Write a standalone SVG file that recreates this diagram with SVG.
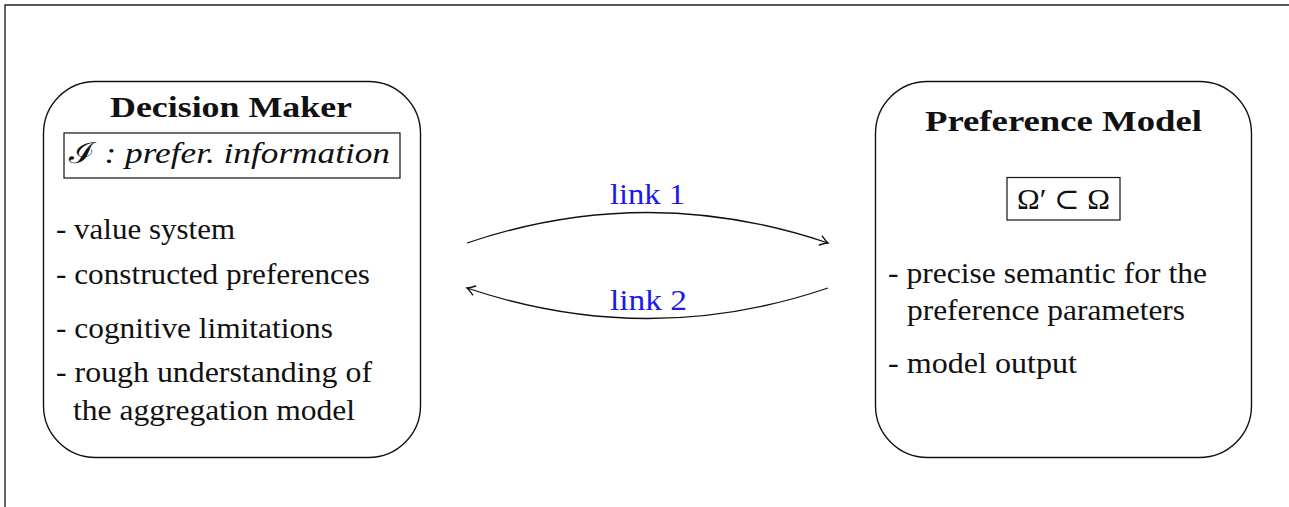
<svg xmlns="http://www.w3.org/2000/svg" width="1289" height="507" viewBox="0 0 1289 507">
<style>
.frame{fill:none;stroke:#222;stroke-width:1.4}
.node{fill:#fff;stroke:#111;stroke-width:1.4}
.inner{fill:none;stroke:#111;stroke-width:1.2}
.title{font-family:"Liberation Serif","DejaVu Serif",serif;font-weight:bold;font-size:29px;fill:#111}
.body{font-family:"Liberation Serif","DejaVu Serif",serif;font-size:29px;fill:#111}
.ital{font-family:"Liberation Serif","DejaVu Serif",serif;font-style:italic;font-size:29px;fill:#111}
.lbl{font-family:"Liberation Serif","DejaVu Serif",serif;font-size:29px;fill:#1a1aee}
.edge{fill:none;stroke:#111;stroke-width:1.3}
</style>
<defs>
<marker id="arr" markerUnits="userSpaceOnUse" markerWidth="14" markerHeight="14" viewBox="-8 -6 10 12" refX="0" refY="0" orient="auto">
<path d="M-6.5,-4 Q-2.5,-1 0,0 Q-2.5,1 -6.5,4" fill="none" stroke="#111" stroke-width="1.2" stroke-linecap="round"/>
</marker>
</defs>
<rect width="1289" height="507" fill="#fff"/>
<path class="frame" d="M5,507 V5 H1289"/>
<g id="decision-maker">
<rect class="node" x="43.5" y="81.5" width="377" height="376" rx="52" ry="52"/>
<text class="title" x="110" y="117" textLength="242" lengthAdjust="spacingAndGlyphs">Decision Maker</text>
<rect class="inner" x="64" y="133" width="336" height="45"/>
<text class="ital" x="69" y="163" textLength="321" lengthAdjust="spacingAndGlyphs"><tspan font-family="DejaVu Serif" font-style="normal">ℐ</tspan> : prefer. information</text>
<text class="body" x="56" y="239" textLength="179" lengthAdjust="spacingAndGlyphs">- value system</text>
<text class="body" x="56" y="284" textLength="314" lengthAdjust="spacingAndGlyphs">- constructed preferences</text>
<text class="body" x="56" y="338" textLength="277" lengthAdjust="spacingAndGlyphs">- cognitive limitations</text>
<text class="body" x="56" y="382" textLength="316" lengthAdjust="spacingAndGlyphs">- rough understanding of</text>
<text class="body" x="73" y="420" textLength="282" lengthAdjust="spacingAndGlyphs">the aggregation model</text>
</g>
<g id="preference-model">
<rect class="node" x="875.5" y="81.5" width="376" height="376" rx="52" ry="52"/>
<text class="title" x="925" y="131" textLength="277" lengthAdjust="spacingAndGlyphs">Preference Model</text>
<rect class="inner" x="1007" y="177.5" width="113" height="42.5"/>
<text class="body" x="1017" y="209" textLength="93" lengthAdjust="spacingAndGlyphs">Ω′ ⊂ Ω</text>
<text class="body" x="888" y="283" textLength="319" lengthAdjust="spacingAndGlyphs">- precise semantic for the</text>
<text class="body" x="907" y="320" textLength="278" lengthAdjust="spacingAndGlyphs">preference parameters</text>
<text class="body" x="888" y="373" textLength="189" lengthAdjust="spacingAndGlyphs">- model output</text>
</g>
<g id="connectors">
<path class="edge" d="M467,243 Q647.5,182 828,243" marker-end="url(#arr)"/>
<path class="edge" d="M828,288 Q647.5,349 467,288" marker-end="url(#arr)"/>
<text class="lbl" x="610" y="204" textLength="75" lengthAdjust="spacingAndGlyphs">link 1</text>
<text class="lbl" x="610" y="310" textLength="77" lengthAdjust="spacingAndGlyphs">link 2</text>
</g>
</svg>
